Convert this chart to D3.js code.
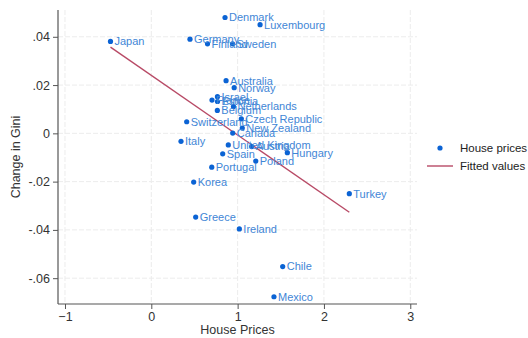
<!DOCTYPE html>
<html>
<head>
<meta charset="utf-8">
<script src="https://cdn.jsdelivr.net/npm/d3@7"></script>
<style>
  html, body { margin: 0; padding: 0; background: #fff; }
  svg { display: block; font-family: "Liberation Sans", Arial, Helvetica, sans-serif; }
</style>
</head>
<body>
<svg id="chart" width="528" height="338"></svg>
<script>
// Countries, house-price change and change in Gini
const countries = ["Japan","Germany","Finland","Sweden","Denmark","Luxembourg","Australia","Norway",
  "Israel","France","Estonia","Belgium","Netherlands","Switzerland","Czech Republic","New Zealand",
  "Canada","Italy","United Kingdom","Austria","Hungary","Spain","Poland","Portugal","Korea",
  "Greece","Ireland","Chile","Mexico","Turkey"];
const housePrices = [-0.473, 0.448, 0.651, 0.941, 0.854, 1.26, 0.866, 0.96,
  0.766, 0.703, 0.767, 0.765, 0.952, 0.41, 1.043, 1.054,
  0.943, 0.344, 0.892, 1.163, 1.576, 0.827, 1.21, 0.70, 0.491,
  0.514, 1.02, 1.522, 1.421, 2.294];
const giniChange = [0.0381, 0.039, 0.0371, 0.0371, 0.048, 0.045, 0.0218, 0.0189,
  0.0152, 0.0138, 0.0132, 0.0095, 0.0111, 0.0048, 0.006, 0.0022,
  0.0001, -0.0033, -0.0048, -0.0055, -0.008, -0.0085, -0.0115, -0.014, -0.0202,
  -0.0347, -0.0396, -0.0552, -0.0677, -0.025];

// Fitted line endpoints
const fitX = [-0.473, 2.294];
const fitY = [0.0357, -0.0327];

const xTicks = [-1, 0, 1, 2, 3];
const yTicks = [0.04, 0.02, 0, -0.02, -0.04, -0.06];
const yTickLabels = [".04", ".02", "0", "-.02", "-.04", "-.06"];
const legendLabels = ["House prices", "Fitted values"];

const dotColor = "#0b63d4";
const labelColor = "#3f86d6";
const lineColor = "#b84a66";

const svg = d3.select("#chart");
const plot = { left: 58, right: 417, top: 10, bottom: 304 };

const x = d3.scaleLinear().domain([-1.081, 3.078]).range([plot.left, plot.right]);
const y = d3.scaleLinear().domain([-0.0707, 0.0511]).range([plot.bottom, plot.top]);

// Grid
const grid = svg.append("g").attr("stroke", "#ececec").attr("stroke-width", 1)
  .attr("stroke-dasharray", "5,2");
grid.selectAll("line.gx").data(xTicks).join("line")
  .attr("x1", d => x(d)).attr("x2", d => x(d))
  .attr("y1", plot.top).attr("y2", plot.bottom);
grid.selectAll("line.gy").data(yTicks).join("line")
  .attr("x1", plot.left).attr("x2", plot.right)
  .attr("y1", d => y(d)).attr("y2", d => y(d));

// Axes
const xAxis = d3.axisBottom(x).tickValues(xTicks).tickSize(5).tickPadding(3)
  .tickFormat(d3.format("d"));
const gx = svg.append("g").attr("transform", `translate(0,${plot.bottom})`).call(xAxis);
const yAxis = d3.axisLeft(y).tickValues(yTicks).tickSize(5).tickPadding(3)
  .tickFormat((d, i) => yTickLabels[i]);
const gy = svg.append("g").attr("transform", `translate(${plot.left},0)`).call(yAxis);

[gx, gy].forEach(g => {
  g.select(".domain").attr("stroke", "#555").attr("stroke-width", 1.2);
  g.selectAll(".tick line").attr("stroke", "#555");
  g.selectAll(".tick text").attr("fill", "#333").style("font-size", "12.5px")
    .style("font-family", "'Liberation Sans', Arial, sans-serif");
});
gx.select(".domain").attr("d", `M${plot.left},0H${plot.right}`);
gy.select(".domain").attr("d", `M0,${plot.top}V${plot.bottom}`);

// Axis titles
svg.append("text").attr("x", (plot.left + plot.right) / 2).attr("y", 334)
  .attr("text-anchor", "middle").attr("fill", "#333").style("font-size", "12.5px")
  .text("House Prices");
svg.append("text").attr("transform", `translate(20,${(plot.top + plot.bottom) / 2}) rotate(-90)`)
  .attr("text-anchor", "middle").attr("fill", "#333").style("font-size", "12.5px")
  .text("Change in Gini");

// Fitted line
svg.append("line")
  .attr("x1", x(fitX[0])).attr("y1", y(fitY[0]))
  .attr("x2", x(fitX[1])).attr("y2", y(fitY[1]))
  .attr("stroke", lineColor).attr("stroke-width", 1.4);

// Points and labels
const data = countries.map((c, i) => ({ c, hp: housePrices[i], g: giniChange[i] }));
svg.append("g").selectAll("circle").data(data).join("circle")
  .attr("cx", d => x(d.hp)).attr("cy", d => y(d.g)).attr("r", 2.6)
  .attr("fill", dotColor);
svg.append("g").selectAll("text").data(data).join("text")
  .attr("x", d => x(d.hp) + 4).attr("y", d => y(d.g))
  .attr("dy", "0.35em").attr("fill", labelColor).style("font-size", "11px")
  .text(d => d.c);

// Legend
const lg = svg.append("g");
lg.append("circle").attr("cx", 440).attr("cy", 148).attr("r", 2.6).attr("fill", dotColor);
lg.append("line").attr("x1", 427).attr("x2", 453).attr("y1", 166).attr("y2", 166)
  .attr("stroke", lineColor).attr("stroke-width", 1.4);
lg.selectAll("text").data(legendLabels).join("text")
  .attr("x", 460).attr("y", (d, i) => 148 + i * 18).attr("dy", "0.35em")
  .attr("fill", "#222").style("font-size", "11.5px").text(d => d);
</script>
</body>
</html>
